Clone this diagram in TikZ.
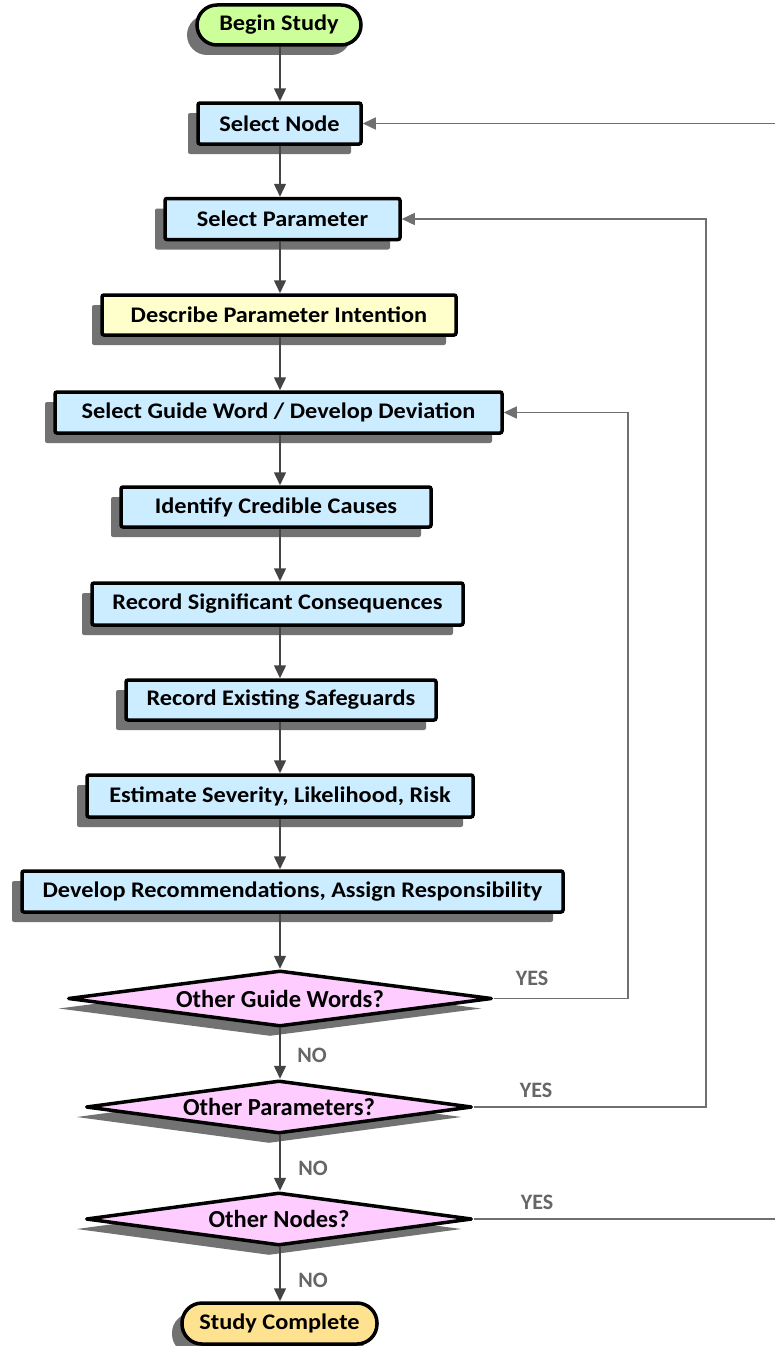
\documentclass[tikz,border=0pt]{standalone}
\usepackage{fontspec}
\setmainfont{Carlito}
\newfontfamily\boxfont{Carlito}[FakeStretch=1.09]
\usetikzlibrary{shapes.geometric,arrows.meta,shadows}
\definecolor{boxblue}{HTML}{CCECFF}
\definecolor{boxyellow}{HTML}{FFFFCC}
\definecolor{boxgreen}{HTML}{CCFF99}
\definecolor{boxpink}{HTML}{FFCCFF}
\definecolor{boxorange}{HTML}{FFE28F}
\definecolor{flowline}{HTML}{444444}
\definecolor{loopline}{HTML}{707070}
\definecolor{lblgray}{HTML}{666666}
\definecolor{shadowgray}{HTML}{727272}
\begin{document}
\begin{tikzpicture}[x=1pt,y=-1pt,
  shad/.style={drop shadow={shadow xshift=-10pt,shadow yshift=-10pt,fill=shadowgray,opacity=1}},
  basefont/.style={font=\boxfont\fontsize{22.3}{26}\selectfont\bfseries},
  procbox/.style={draw=black,line width=3.5pt,rounded corners=2pt,fill=boxblue,shad,
    minimum height=41pt,inner sep=0pt,basefont},
  termbox/.style={draw=black,line width=3.5pt,rounded corners=20pt,shad,
    minimum height=40pt,inner sep=0pt,basefont},
  decbox/.style={draw=black,line width=3.5pt,line join=round,diamond,aspect=9,fill=boxpink,shad,
    inner sep=0pt,font=\fontsize{24.5}{28}\selectfont\bfseries},
  flow/.style={draw=flowline,line width=1.5pt,-{Triangle[length=13pt,width=12pt]}},
  loop/.style={draw=loopline,line width=1.5pt,-{Triangle[length=13pt,width=12pt]},color=loopline},
  lbl/.style={text=lblgray,font=\fontsize{22}{26}\selectfont\bfseries,inner sep=0pt}
]
\useasboundingbox (0,0) rectangle (775,1346);
\coordinate (axis) at (280,0);
\coordinate (r1) at (628,0);
\coordinate (r2) at (706,0);
\coordinate (r3) at (800,0);

\node[termbox,fill=boxgreen,minimum width=164pt] (begin) at (279,25) {Begin Study};
\node[procbox,minimum width=163pt] (selnode) at (279.5,123.5) {Select Node};
\node[procbox,minimum width=235pt] (selparam) at (282.5,219) {Select Parameter};
\node[procbox,fill=boxyellow,minimum width=354pt,minimum height=40pt] (describe) at (279,315) {Describe Parameter Intention};
\node[procbox,minimum width=447pt] (guide) at (278.5,412.5) {Select Guide Word / Develop Deviation};
\node[procbox,minimum width=310pt,minimum height=40pt] (causes) at (276,507) {Identify Credible Causes};
\node[procbox,minimum width=371pt,minimum height=42pt] (conseq) at (277.5,604) {Record Significant Consequences};
\node[procbox,minimum width=310pt,minimum height=40pt] (safe) at (281,700) {Record Existing Safeguards};
\node[procbox,minimum width=386pt,minimum height=42pt] (estim) at (280,796) {Estimate Severity, Likelihood, Risk};
\node[procbox,minimum width=541pt] (recom) at (292.5,891.5) {Develop Recommendations, Assign Responsibility};
\node[decbox,minimum width=424pt,minimum height=56pt] (dguide) at (280,998.5) {Other Guide Words?};
\node[decbox,minimum width=386pt,minimum height=53pt] (dparam) at (279,1107) {Other Parameters?};
\node[decbox,minimum width=386pt,minimum height=53pt] (dnode) at (279,1219) {Other Nodes?};
\node[termbox,fill=boxorange,minimum width=195pt,minimum height=41pt] (done) at (279.5,1323.5) {Study Complete};

\draw[flow] (begin.south -| axis) -- (selnode.north -| axis);
\draw[flow] (selnode.south -| axis) -- (selparam.north -| axis);
\draw[flow] (selparam.south -| axis) -- (describe.north -| axis);
\draw[flow] (describe.south -| axis) -- (guide.north -| axis);
\draw[flow] (guide.south -| axis) -- (causes.north -| axis);
\draw[flow] (causes.south -| axis) -- (conseq.north -| axis);
\draw[flow] (conseq.south -| axis) -- (safe.north -| axis);
\draw[flow] (safe.south -| axis) -- (estim.north -| axis);
\draw[flow] (estim.south -| axis) -- (recom.north -| axis);
\draw[flow] (recom.south -| axis) -- (dguide.north -| axis);
\draw[flow] (dguide.south -| axis) -- (dparam.north -| axis);
\draw[flow] (dparam.south -| axis) -- (dnode.north -| axis);
\draw[flow] (dnode.south -| axis) -- (done.north -| axis);

\draw[loop] (dguide.east) -| (r1 |- guide.east) -- (guide.east);
\draw[loop] (dparam.east) -| (r2 |- selparam.east) -- (selparam.east);
\draw[loop] (dnode.east) -| (r3 |- selnode.east) -- (selnode.east);

\node[lbl] (yes1) at (532,978) {YES};
\node[lbl] (yes2) at (536,1090) {YES};
\node[lbl] (yes3) at (537,1202) {YES};
\node[lbl] (no1) at (312,1055) {NO};
\node[lbl] (no2) at (313,1168) {NO};
\node[lbl] (no3) at (313,1280) {NO};
\end{tikzpicture}
\end{document}
